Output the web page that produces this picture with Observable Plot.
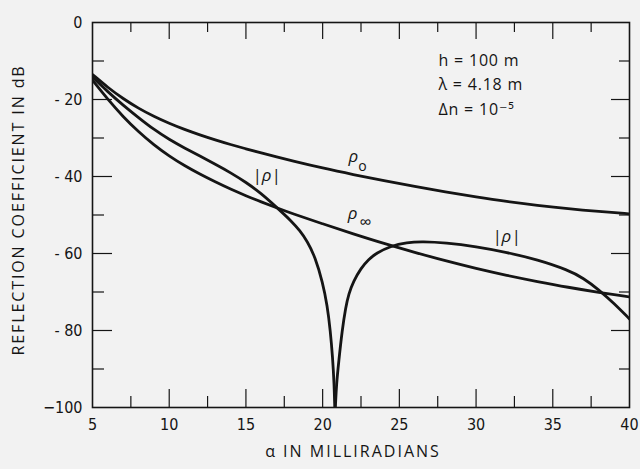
<!DOCTYPE html>
<html><head><meta charset="utf-8">
<script src="https://cdn.jsdelivr.net/npm/d3@7"></script>
<script src="https://cdn.jsdelivr.net/npm/@observablehq/plot@0.6"></script>
<style>
html,body{margin:0;padding:0;background:#f2f2f2;}
</style></head><body><div id="chart"></div>
<script>
// rho_0 curve
const rho0X = [5, 6, 7, 8, 9, 10, 11, 12, 13, 14, 15, 16, 17, 18, 20, 22, 24, 26, 28, 30, 32, 34, 36, 38, 40];
const rho0Y = [-13.5, -16.9, -19.8, -22.3, -24.4, -26.2, -27.8, -29.2, -30.5, -31.7, -32.8, -33.9, -34.9, -35.9, -37.8, -39.5, -41.1, -42.6, -44.0, -45.3, -46.5, -47.5, -48.4, -49.1, -49.7];
// rho_infinity curve
const rhoInfX = [5, 6, 7, 8, 9, 10, 11, 12, 13, 14, 15, 16, 17, 18, 20, 22, 24, 26, 28, 30, 32, 34, 36, 38, 40];
const rhoInfY = [-15, -20.0, -24.5, -28.4, -31.8, -34.7, -37.2, -39.4, -41.4, -43.3, -45.0, -46.6, -48.1, -49.6, -52.3, -54.9, -57.4, -59.7, -61.9, -63.9, -65.7, -67.3, -68.8, -70.1, -71.3];
// |rho| curve, left branch (down to the null) and right branch (up from the null)
const rhoAbsLeftX = [5, 6, 7, 8, 9, 10, 11, 12, 13, 14, 15, 16, 17, 18, 18.5, 19, 19.5, 20, 20.3, 20.5, 20.65, 20.75, 20.79];
const rhoAbsLeftY = [-14.2, -18.0, -21.5, -24.7, -27.8, -30.4, -32.6, -34.7, -36.8, -39.0, -41.5, -44.4, -48.0, -51.7, -54.0, -56.8, -60.8, -67.5, -73.5, -80, -87, -94, -100];
const rhoAbsRightX = [20.83, 20.9, 21.05, 21.27, 21.5, 21.7, 22, 22.5, 23, 23.5, 24.4, 25.5, 26.5, 28, 30, 32, 34, 36, 37, 38, 39, 40];
const rhoAbsRightY = [-100, -94, -88, -80, -74, -70.5, -67.3, -63.8, -61.5, -59.9, -58.1, -57.1, -56.9, -57.2, -58.2, -59.7, -61.6, -64.3, -66.4, -69.4, -73.0, -77];

const xMajor = [5, 10, 15, 20, 25, 30, 35, 40];
const xMinor = [7.5, 12.5, 17.5, 22.5, 27.5, 32.5, 37.5];
const xInnerMajor = [10, 15, 20, 25, 30, 35];
const yMajor = [0, -20, -40, -60, -80, -100];
const yInnerMajor = [-20, -40, -60, -80];
const yMinor = [-10, -30, -50, -70, -90];

const curveLabels = ["|ρ|", "|ρ|", "ρ", "ρ"];
const curveLabelX = [16.34, 31.98, 22.0, 21.95];
const curveLabelY = [-39.7, -55.6, -34.8, -49.6];
const subLabels = ["o", "∞"];
const subLabelX = [22.6, 22.8];
const subLabelY = [-37.4, -52.0];

const paramLines = ["h = 100 m", "λ = 4.18 m", "Δn = 10⁻⁵"];
const paramX = [27.55, 27.55, 27.55];
const paramY = [-9.9, -16.1, -22.6];

const toRows = (xs, ys) => xs.map((x, i) => ({x, y: ys[i]}));

const W = 640, H = 469, mL = 92, mR = 11, mT = 22, mB = 62;
const fw = W - mL - mR, fh = H - mT - mB;
const ink = "#151515";
const labelFont = "'Open Sans', 'DejaVu Sans', sans-serif";
const lineOpts = {x: "x", y: "y", curve: "basis", stroke: ink, strokeWidth: 2.8, clip: true};

const chart = Plot.plot({
  width: W, height: H,
  marginLeft: mL, marginRight: mR, marginTop: mT, marginBottom: mB,
  style: {background: "#f2f2f2", fontFamily: "'Liberation Sans Narrow', 'DejaVu Sans Condensed', 'Liberation Sans', sans-serif", color: ink},
  x: {domain: [5, 40]},
  y: {domain: [-100, 0]},
  marks: [
    Plot.axisX(xMajor, {tickSize: 0, tickPadding: 11, fontSize: 16, label: null, tickFormat: d => String(d)}),
    Plot.axisY(yMajor, {tickSize: 0, tickPadding: 10, fontSize: 16, label: null, tickFormat: d => d === -100 ? "−100" : d < 0 ? "- " + Math.abs(d) : String(d)}),
    // bottom ticks
    Plot.tickX(xInnerMajor, {x: d => d, insetTop: fh - 18, stroke: ink, strokeWidth: 1.2}),
    Plot.tickX(xMinor, {x: d => d, insetTop: fh - 11, stroke: ink, strokeWidth: 1.2}),
    // top ticks
    Plot.tickX(xInnerMajor, {x: d => d, insetBottom: fh - 17, stroke: ink, strokeWidth: 1.2}),
    Plot.tickX(xMinor, {x: d => d, insetBottom: fh - 10, stroke: ink, strokeWidth: 1.2}),
    // left ticks
    Plot.tickY(yInnerMajor, {y: d => d, insetRight: fw - 20, stroke: ink, strokeWidth: 1.2}),
    Plot.tickY(yMinor, {y: d => d, insetRight: fw - 12, stroke: ink, strokeWidth: 1.2}),
    // right ticks
    Plot.tickY(yInnerMajor, {y: d => d, insetLeft: fw - 18, stroke: ink, strokeWidth: 1.2}),
    Plot.tickY(yMinor, {y: d => d, insetLeft: fw - 10, stroke: ink, strokeWidth: 1.2}),
    Plot.frame({stroke: ink, strokeWidth: 1.6}),
    Plot.line(toRows(rho0X, rho0Y), lineOpts),
    Plot.line(toRows(rhoInfX, rhoInfY), lineOpts),
    Plot.line(toRows(rhoAbsLeftX, rhoAbsLeftY), lineOpts),
    Plot.line(toRows(rhoAbsRightX, rhoAbsRightY), lineOpts),
    Plot.text(curveLabels, {x: (d, i) => curveLabelX[i], y: (d, i) => curveLabelY[i], text: d => d, fontSize: 17, fontStyle: "italic", fontFamily: labelFont, fill: ink}),
    Plot.text(subLabels, {x: (d, i) => subLabelX[i], y: (d, i) => subLabelY[i], text: d => d, fontSize: (d, i) => i === 0 ? 14 : 17, fontFamily: labelFont, fill: ink}),
    Plot.text(paramLines, {x: (d, i) => paramX[i], y: (d, i) => paramY[i], text: d => d, textAnchor: "start", fontSize: 16, fontFamily: labelFont, fill: ink}),
    Plot.text(["α IN MILLIRADIANS"], {frameAnchor: "bottom", dx: -8, dy: 49, fontSize: 16, fontFamily: labelFont, fill: ink}),
    Plot.text(["REFLECTION COEFFICIENT IN dB"], {frameAnchor: "left", textAnchor: "middle", dx: -74, dy: -5, rotate: -90, fontSize: 16, fontFamily: labelFont, fill: ink})
  ]
});
chart.querySelectorAll("text").forEach(t => {
  if (t.textContent === "REFLECTION COEFFICIENT IN dB") t.setAttribute("letter-spacing", "1.9");
  if (t.textContent === "α IN MILLIRADIANS") t.setAttribute("letter-spacing", "2");
  if (paramLines.includes(t.textContent)) t.setAttribute("letter-spacing", "0.8");
});
document.getElementById("chart").appendChild(chart);
</script></body></html>
